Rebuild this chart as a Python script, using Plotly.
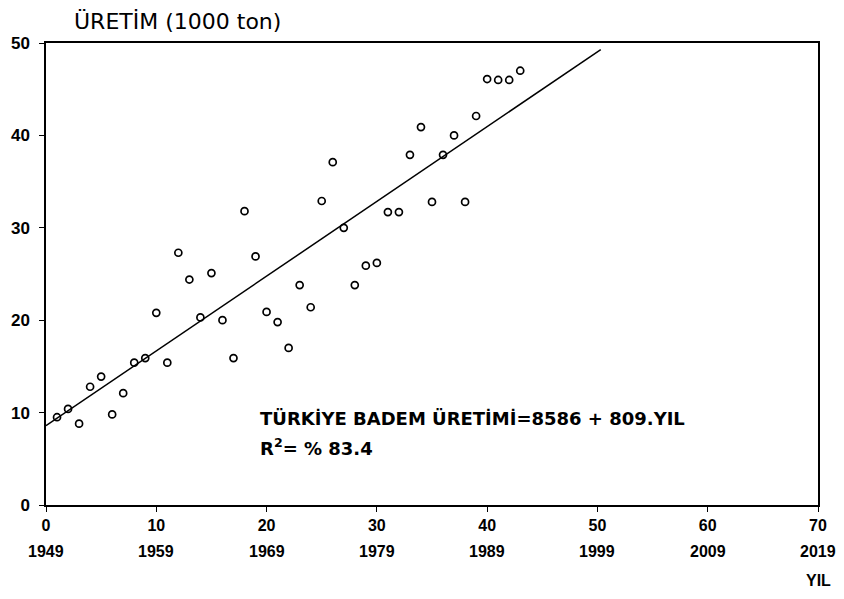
import plotly.graph_objects as go

# Data (x = years since 1949, y = production in 1000 tons)
yil_index = list(range(1, 44))
uretim = [9.5, 10.4, 8.8, 12.8, 13.9, 9.8, 12.1, 15.4, 15.9, 20.8,
          15.4, 27.3, 24.4, 20.3, 25.1, 20.0, 15.9, 31.8, 26.9, 20.9,
          19.8, 17.0, 23.8, 21.4, 32.9, 37.1, 30.0, 23.8, 25.9, 26.2,
          31.7, 31.7, 37.9, 40.9, 32.8, 37.9, 40.0, 32.8, 42.1, 46.1,
          46.0, 46.0, 47.0]

# Regression line: URETIM = 8586 + 809*YIL (tons) -> thousand tons
intercept = 8.586
slope = 0.809
line_x = [0, 50.3]
line_y = [intercept + slope * v for v in line_x]

x_ticks = [0, 10, 20, 30, 40, 50, 60, 70]
x_years = ["1949", "1959", "1969", "1979", "1989", "1999", "2009", "2019"]
y_ticks = [0, 10, 20, 30, 40, 50]

num_font = "Liberation Sans, Arial, DejaVu Sans"

fig = go.Figure()
fig.add_trace(go.Scatter(
    x=line_x, y=line_y, mode="lines",
    line=dict(color="black", width=1.5),
    hoverinfo="skip", showlegend=False))
fig.add_trace(go.Scatter(
    x=yil_index, y=uretim, mode="markers",
    marker=dict(symbol="circle-open", size=7, color="black",
                line=dict(width=1.7, color="black")),
    showlegend=False))

annotations = []
for xv, yr in zip(x_ticks, x_years):
    annotations.append(dict(
        x=xv, y=0, xref="x", yref="y", text=yr, showarrow=False,
        xanchor="center", yanchor="middle", yshift=-46,
        font=dict(family=num_font, size=16, color="black", weight="bold")))

annotations.append(dict(
    x=70, y=0, xref="x", yref="y", text="YIL", showarrow=False,
    xanchor="center", yanchor="middle", yshift=-75,
    font=dict(family=num_font, size=16, color="black", weight="bold")))

annotations.append(dict(
    x=0.0337, y=1, xref="paper", yref="paper", text="ÜRETİM (1000 ton)",
    showarrow=False, xanchor="left", yanchor="middle", yshift=22,
    font=dict(family="DejaVu Sans", size=22, color="black")))

annotations.append(dict(
    x=19.2, y=9.4, xref="x", yref="y",
    text="TÜRKİYE BADEM ÜRETİMİ=8586 + 809.YIL",
    showarrow=False, xanchor="left", yanchor="middle",
    font=dict(family="DejaVu Sans", size=18, color="black", weight="bold")))

annotations.append(dict(
    x=19.2, y=6.3, xref="x", yref="y",
    text="R<sup>2</sup>= % 83.4",
    showarrow=False, xanchor="left", yanchor="middle",
    font=dict(family="DejaVu Sans", size=18, color="black", weight="bold")))

fig.update_layout(
    width=844, height=599,
    margin=dict(l=46, r=26, t=43, b=94),
    paper_bgcolor="white", plot_bgcolor="white",
    xaxis=dict(range=[0, 70], tickvals=x_ticks, ticks="outside", ticklen=5,
               tickwidth=1.3, tickcolor="black", showline=True, linecolor="black",
               linewidth=1.5, mirror=True, showgrid=False, zeroline=False,
               tickfont=dict(family=num_font, size=16, color="black", weight="bold")),
    yaxis=dict(range=[0, 50], tickvals=y_ticks, ticks="outside", ticklen=5,
               tickwidth=1.3, tickcolor="black", showline=True, linecolor="black",
               linewidth=1.5, mirror=True, showgrid=False, zeroline=False,
               ticklabelstandoff=6,
               tickfont=dict(family=num_font, size=17, color="black", weight="bold")),
    annotations=annotations,
)

fig.write_html("out.html")
